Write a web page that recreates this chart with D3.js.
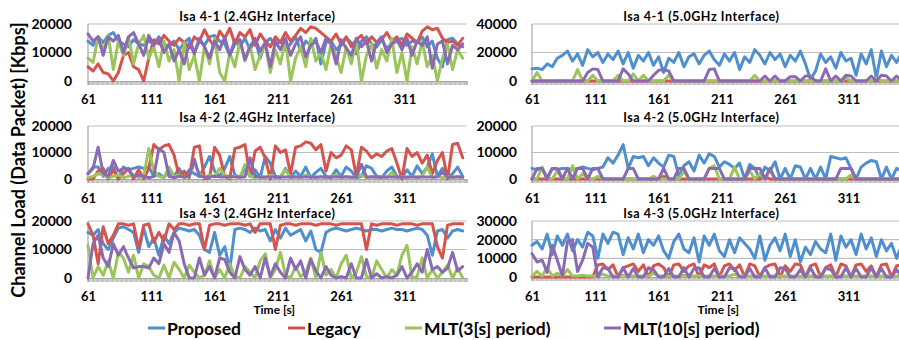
<!DOCTYPE html>
<html><head><meta charset="utf-8">
<script src="https://cdn.jsdelivr.net/npm/d3@7"></script>
<style>
html,body{margin:0;padding:0;background:#fff;}
text{font-family:Lato,"Open Sans",sans-serif;font-weight:bold;fill:#000;}
</style></head>
<body>
<script>
// ---- categories / ticks ----
const sampleTimes = d3.range(61, 361, 4);          // sample times [s]
const categoryTimes = d3.range(61, 361, 1);        // category tick marks
const xTickLabels = [61, 111, 161, 211, 261, 311];
const seriesNames = ["Proposed", "Legacy", "MLT(3[s] period)", "MLT(10[s] period)"];
const seriesColors = ["#4F8FCE", "#D6544E", "#9BC45A", "#8B6AB4"];
const panelTitles = ["Isa 4-1 (2.4GHz Interface)", "Isa 4-1 (5.0GHz Interface)",
  "Isa 4-2 (2.4GHz Interface)", "Isa 4-2 (5.0GHz Interface)",
  "Isa 4-3 (2.4GHz Interface)", "Isa 4-3 (5.0GHz Interface)"];
const yTicks20k = [0, 10000, 20000];
const yTicks40k = [0, 20000, 40000];
const yTicks30k = [0, 10000, 20000, 30000];

// ---- Isa 4-1 2.4GHz ----
const isa41_24_proposed = [
 14000,12500,15500,13500,16000,17000,14000,13000,12000,14500,13000,12500,14000,13000,15500,
 13000,12000,14000,11000,13500,15000,10000,14000,12500,15500,16000,14000,13000,9000,14500,
 12000,15000,11000,14500,8000,13500,15000,12500,14000,11000,13000,15500,10500,14000,12500,
 15000,6000,13500,14000,11000,12500,15000,13500,9500,14000,15500,13000,12000,14500,11500,
 13000,14000,15000,12500,14000,13500,15500,12000,14000,8000,5000,14500,15000,13000,12000];
const isa41_24_legacy = [
 5000,3500,6000,3000,2500,0,3000,9000,10000,5000,4000,0,8000,14500,13000,
 16000,14000,12500,15000,13500,11500,15500,14000,18000,14500,12000,17500,15000,18500,13000,
 17000,15500,18000,12500,16500,14000,12000,15500,13500,17000,14000,16000,18500,17000,19000,
 18500,17000,15500,14000,16500,13000,15500,12000,14500,16000,13000,15500,13500,14500,17000,
 14000,15500,12500,16500,15000,13500,17500,19000,18000,18500,15000,13500,14000,12500,15000];
const isa41_24_mlt3 = [
 8000,6500,15500,11000,16000,4000,14000,9000,15500,6000,13000,16000,8000,12000,5000,
 14000,7000,11000,0,13500,4000,9000,0,12000,6000,15000,3000,0,10000,5000,
 14000,7000,12500,4000,9000,13000,3000,11000,6000,14500,0,8000,12000,5000,15000,
 7000,10000,4000,13000,8500,3000,12000,6000,14000,0,9000,13000,4500,11000,7000,
 15000,3000,10000,0,12000,6000,14000,5000,9000,0,8000,13000,4000,11000,8000];
const isa41_24_mlt10 = [
 16500,14000,15500,9000,15500,14000,16000,10000,15500,17000,13000,9000,16000,12500,14500,
 10000,13000,7000,11000,6000,13500,9500,15000,12000,8000,14000,11000,15500,9000,13000,
 14500,7500,12000,15000,10500,13500,5000,14000,11000,15000,9000,13000,15500,8500,12500,
 14000,10000,15000,13000,6000,14500,11500,9000,15000,12000,14000,7000,13500,15500,10000,
 13000,14500,11000,15000,9000,14000,12500,15500,4500,13000,14000,6000,12500,11000,13000];

// ---- Isa 4-1 5.0GHz ----
const isa41_50_proposed = [
 8500,9000,8000,12000,10000,16000,18000,21000,14000,19000,11000,22000,17000,20000,13000,
 19000,15000,21000,12000,20000,9000,18000,14000,20000,11000,17000,6000,16000,13000,20000,
 10000,17000,19000,12000,18000,21000,15000,11000,19000,14000,20000,8000,17000,13000,22000,
 18000,12000,20000,15000,19000,10000,18000,14000,21000,12000,1000,7000,19000,13000,17000,
 9000,20000,14000,16000,4000,19000,12000,22000,2000,21000,10000,18000,13000,20000,17000];
const isa41_50_legacy = [
 0,0,0,0,0,0,0,0,0,0,0,0,0,0,0,
 0,0,0,0,0,0,0,0,0,0,0,0,0,0,0,
 0,0,0,0,0,0,0,0,0,0,0,0,0,0,0,
 0,0,0,0,0,0,0,0,0,0,0,0,0,0,0,
 0,0,0,0,0,0,0,0,0,0,0,0,0,0,0];
const isa41_50_mlt3 = [
 0,6000,0,0,0,0,0,0,0,8000,0,0,4000,0,0,
 0,0,4000,0,0,5000,0,4000,0,0,0,0,4000,0,0,
 0,0,0,0,0,0,0,0,0,0,0,0,0,0,4000,
 0,0,0,0,0,0,0,0,0,0,0,0,0,0,0,
 0,0,2000,0,0,0,0,0,2000,0,0,0,0,0,0];
const isa41_50_mlt10 = [
 0,0,0,0,0,0,0,0,0,0,0,6000,8500,8000,0,
 0,0,0,8500,5000,0,0,0,0,4000,7500,8000,7000,0,0,
 0,0,0,0,0,8000,8500,0,0,0,0,0,0,0,0,
 0,3500,0,3500,0,0,3000,3000,0,3500,3500,0,0,8500,0,
 3500,0,4000,3500,0,0,0,3500,0,4000,3500,0,3500,0,0];

// ---- Isa 4-2 2.4GHz ----
const isa42_24_proposed = [
 2000,4500,4500,1000,4000,4500,0,4500,3500,4000,4500,4000,4500,1000,2000,
 500,3000,1000,4000,500,3500,2000,1000,4500,8500,3000,1000,4000,8500,1500,
 500,4000,1000,3500,500,8500,6000,1000,500,4000,500,3000,1000,4500,500,
 2500,4000,1000,500,3500,1000,4500,3000,500,1000,5000,4000,1000,500,3000,
 4500,1000,500,3500,1000,5000,2000,4500,9500,1000,4000,500,2000,4500,1000];
const isa42_24_legacy = [
 0,0,3000,4000,0,3500,0,2000,4000,0,3500,0,4000,13000,11000,
 12500,13000,9000,1000,3000,500,12000,12500,0,500,12000,9000,1000,0,11500,
 12000,13000,1000,10500,12000,8000,0,12500,10000,11000,2000,12000,12500,14000,13500,
 11000,13000,3000,10000,8000,9000,12500,11000,1000,12000,10500,8000,9500,8500,10500,
 11500,6000,0,11500,8500,10000,6000,9000,2000,7000,10000,0,13000,13500,8000];
const isa42_24_mlt3 = [
 500,1000,2000,1500,500,1000,1500,500,1000,1500,500,1000,11500,3000,1000,
 500,4500,1000,1500,500,1000,6000,2000,500,1500,1000,4000,1500,500,1000,
 500,5500,1000,500,1000,500,1500,500,1000,3500,500,1000,500,1500,1000,
 500,1000,500,1000,1500,500,1000,500,1000,1500,500,1000,500,1000,500,
 2500,500,1000,500,1000,500,1000,4500,500,1000,500,1000,500,1000,500];
const isa42_24_mlt10 = [
 2000,4000,12000,2000,1000,7000,3000,4000,3500,1000,1500,1000,500,1000,11500,
 10000,1000,500,1000,800,1000,7500,1000,800,800,1000,800,800,1000,800,
 800,800,8000,1000,800,800,800,800,800,800,800,800,800,800,800,
 800,800,800,800,800,800,800,800,800,5500,800,800,800,800,800,
 800,800,800,800,800,800,800,800,800,800,2500,800,800,800,800];

// ---- Isa 4-2 5.0GHz ----
const isa42_50_proposed = [
 4000,3500,4000,500,4000,3500,4000,4000,3500,4000,4500,4000,3500,4000,4500,
 8000,6000,9000,13000,4000,8500,8000,8500,5000,8000,6000,4500,9000,8500,1000,
 5000,6500,3000,9000,6000,9500,8500,4500,6500,5500,4000,6000,0,5500,4000,
 0,4500,3000,6500,0,4000,0,5000,4500,0,4000,0,4500,0,8500,
 8000,7500,8000,4000,0,4500,6000,7000,6500,0,4500,0,4000,3000,4000];
const isa42_50_legacy = [
 0,0,0,0,0,0,0,0,0,0,0,0,0,0,0,
 0,0,0,0,0,0,0,0,0,0,0,1000,0,0,0,
 0,0,0,0,0,0,0,0,0,0,0,0,0,0,0,
 0,1000,0,0,0,0,0,0,0,0,0,0,0,0,0,
 0,0,0,0,0,0,0,0,0,0,0,0,0,0,0];
const isa42_50_mlt3 = [
 0,0,4500,0,0,3000,0,0,5000,0,2000,0,0,1000,0,
 0,0,0,0,0,0,0,0,0,1000,0,0,0,0,0,
 3000,0,0,0,0,4000,5000,0,0,0,4500,0,0,3000,0,
 2000,0,3500,0,0,0,0,0,0,0,0,0,0,0,0,
 0,0,0,1500,0,0,0,0,0,0,0,0,0,0,0];
const isa42_50_mlt10 = [
 0,4000,4000,0,4000,4000,0,4000,0,4000,4000,0,4000,4000,0,
 0,0,0,0,4000,4000,0,0,0,0,0,4000,0,0,4000,
 4000,0,0,0,0,4000,4000,4000,0,0,0,0,0,4000,4000,
 4000,0,4000,0,0,0,0,0,0,0,0,0,0,0,0,
 0,4000,4000,4000,0,0,0,0,0,0,0,0,0,0,0];

// ---- Isa 4-3 2.4GHz ----
const isa43_24_proposed = [
 16000,15000,17000,12000,10000,14000,17500,18000,17000,16000,9000,17500,11000,14000,8000,
 15000,12000,16000,17500,17000,16500,17000,15000,10000,9000,16000,8000,11000,3000,17000,
 17500,17000,16000,17500,16500,17000,13000,17000,14000,17500,15000,16000,17000,13000,16500,
 10000,9000,16000,17000,17500,17000,16500,17000,17500,17000,16500,17000,17000,16500,17000,
 17500,17000,17000,16500,17000,17500,17000,15000,8000,16500,17000,14000,16500,17000,16500];
const isa43_24_legacy = [
 19000,15000,5000,18000,12000,15000,19000,19000,18500,19000,10500,18500,19000,12500,16000,
 13000,19000,17000,19000,19000,18500,19000,19000,10000,18500,19000,19000,18500,19000,19000,
 19000,18500,19000,16000,19000,19000,19000,10000,18500,19000,19000,18500,19000,19000,19000,
 18500,19000,19000,19000,18500,19000,19000,19000,19000,19000,10000,19000,18500,19000,19000,
 19000,18500,19000,19000,19000,18500,19000,19000,19000,11000,7000,18500,19000,19000,19000];
const isa43_24_mlt3 = [
 11500,0,4000,1000,6000,0,9000,7000,2000,8000,0,5000,4000,1000,0,
 4500,0,5500,3000,0,4500,2000,0,1000,6000,0,3000,0,5000,500,
 0,4000,2000,0,6000,8500,0,3000,9000,1000,0,4000,500,2000,7000,
 0,9000,1000,3000,0,5000,8000,0,2000,7500,500,0,6000,3000,0,
 3000,1000,8000,11500,0,500,7000,0,3000,0,2000,4500,0,3500,0];
const isa43_24_mlt10 = [
 0,12000,15000,7000,4000,12000,8000,11000,7000,3500,4000,4000,3500,7000,5000,
 12000,9000,16000,13000,5000,0,0,7000,1000,4000,0,7000,6500,2000,0,
 7500,3000,1000,4000,0,7000,500,5000,2000,0,7000,3000,6000,0,6500,
 2500,0,4000,1000,0,500,0,5000,0,0,6500,0,1500,0,500,
 0,1000,4000,0,2000,5000,2000,10000,3000,4000,2000,3500,9000,2500,4000];

// ---- Isa 4-3 5.0GHz ----
const isa43_50_proposed = [
 17000,19000,15000,23000,12000,22000,17000,23000,14000,20000,16000,24000,22000,10000,23000,
 18000,24000,23000,12000,21000,15000,23000,13000,20000,17000,22000,14000,10000,19000,23000,
 15000,13000,21000,8000,22000,17000,23000,14000,11000,20000,13000,21000,18000,15000,10000,
 22000,9000,17000,21000,14000,23000,11000,20000,8000,16000,12000,19000,15000,13000,23000,
 9000,22000,16000,20000,12000,23000,15000,21000,11000,20000,14000,18000,10000,17000,12000];
const isa43_50_legacy = [
 0,0,0,0,0,0,0,0,0,0,0,0,0,6500,7000,
 4000,6500,0,5000,6000,7000,3000,6500,0,6000,7000,5000,0,6500,7000,
 3000,6000,7000,0,6500,5000,7000,0,6000,7000,3500,6500,0,7000,6000,
 0,5000,6500,7000,0,6000,3000,7000,6500,0,6000,7000,0,5000,6500,
 0,7000,6000,0,6500,7000,3000,6000,0,6500,7000,0,6000,6500,0];
const isa43_50_mlt3 = [
 500,3000,500,5000,500,2000,500,4000,500,500,1000,500,500,500,1500,
 500,500,500,1000,500,500,500,500,500,2000,500,500,500,500,500,
 1000,500,500,500,500,500,500,500,500,500,1500,500,500,500,500,
 500,500,500,500,500,500,500,500,500,500,500,500,500,500,500,
 500,500,500,500,500,500,500,500,500,500,500,500,500,500,500];
const isa43_50_mlt10 = [
 12500,8000,9000,2500,17000,9000,500,19000,20000,3000,9000,18000,16000,0,5000,
 4500,0,0,5000,0,4500,0,0,5000,4000,0,0,4500,0,0,
 5000,0,4500,5000,0,0,4500,0,0,5000,4500,0,0,4500,0,
 0,5000,0,0,5000,4500,0,0,4000,0,5000,0,0,4500,4000,
 0,0,5000,0,4500,0,0,5000,0,4500,0,0,4000,0,4000];

// ---- layout ----
const W = 899, H = 340;
const cols = [{x0: 88, x1: 466.5, labelRight: 72}, {x0: 532, x1: 910.5, labelRight: 517}];
const rows = [
  {top: 24, bot: 81, titleY: 16.5, labelY: 99.5},
  {top: 126, bot: 179, titleY: 117.5, labelY: 198.5},
  {top: 221, bot: 278, titleY: 213, labelY: 296}
];
const panels = [
  {title: panelTitles[0], c: 0, r: 0, yMax: 20000, ticks: yTicks20k, series: [isa41_24_proposed, isa41_24_legacy, isa41_24_mlt3, isa41_24_mlt10]},
  {title: panelTitles[1], c: 1, r: 0, yMax: 40000, ticks: yTicks40k, series: [isa41_50_proposed, isa41_50_legacy, isa41_50_mlt3, isa41_50_mlt10]},
  {title: panelTitles[2], c: 0, r: 1, yMax: 20000, ticks: yTicks20k, series: [isa42_24_proposed, isa42_24_legacy, isa42_24_mlt3, isa42_24_mlt10]},
  {title: panelTitles[3], c: 1, r: 1, yMax: 20000, ticks: yTicks20k, series: [isa42_50_proposed, isa42_50_legacy, isa42_50_mlt3, isa42_50_mlt10]},
  {title: panelTitles[4], c: 0, r: 2, yMax: 20000, ticks: yTicks20k, series: [isa43_24_proposed, isa43_24_legacy, isa43_24_mlt3, isa43_24_mlt10]},
  {title: panelTitles[5], c: 1, r: 2, yMax: 30000, ticks: yTicks30k, series: [isa43_50_proposed, isa43_50_legacy, isa43_50_mlt3, isa43_50_mlt10], botAdj: -1}
];

const svg = d3.select("body").append("svg").attr("width", W).attr("height", H);

panels.forEach(p => {
  const col = cols[p.c], row = rows[p.r];
  const bot = row.bot + (p.botAdj || 0);
  const x = d3.scaleLinear().domain([61, 360]).range([col.x0, col.x1]);
  const y = d3.scaleLinear().domain([0, p.yMax]).range([bot, row.top]);
  const g = svg.append("g");

  // gridlines
  g.selectAll("line.grid").data(p.ticks.filter(t => t > 0)).enter().append("line")
    .attr("x1", col.x0).attr("x2", col.x1).attr("y1", d => y(d)).attr("y2", d => y(d))
    .attr("stroke", "#BFBFBF").attr("stroke-width", 1.2);

  // category tick marks
  g.append("g").attr("transform", `translate(0,${bot})`)
    .call(d3.axisBottom(x).tickValues(categoryTimes).tickSize(4).tickFormat(""))
    .call(a => a.select(".domain").attr("stroke", "#A6A6A6").attr("stroke-width", 1.2))
    .call(a => a.selectAll(".tick line").attr("stroke", "#A6A6A6").attr("stroke-width", 0.8));

  // left axis line
  g.append("line").attr("x1", col.x0).attr("x2", col.x0).attr("y1", row.top).attr("y2", bot + 4)
    .attr("stroke", "#A6A6A6").attr("stroke-width", 1.2);

  // x labels
  g.append("g").attr("transform", `translate(0,${row.labelY})`)
    .call(d3.axisBottom(x).tickValues(xTickLabels).tickSize(0).tickPadding(0))
    .call(a => a.select(".domain").remove())
    .call(a => a.selectAll("text").attr("y", 0).attr("dy", "0.36em")
      .style("font-size", "13px").style("font-family", "Lato").style("font-weight", "bold").attr("fill", "#000"));

  // y labels
  g.append("g").attr("transform", `translate(${col.x0},0)`)
    .call(d3.axisLeft(y).tickValues(p.ticks).tickSize(0).tickPadding(col.x0 - col.labelRight).tickFormat(d3.format("d")))
    .call(a => a.select(".domain").remove())
    .call(a => a.selectAll("text").style("font-size", "14px").style("font-family", "Lato").style("font-weight", "bold").attr("fill", "#000"));

  // series
  const line = d3.line().x((d, i) => x(sampleTimes[i])).y(d => y(d));
  p.series.forEach((s, k) => {
    g.append("path").datum(s).attr("d", line)
      .attr("fill", "none").attr("stroke", seriesColors[k]).attr("stroke-width", 3)
      .attr("stroke-linejoin", "round").attr("stroke-linecap", "round");
  });

  // title
  g.append("text").attr("x", (col.x0 + col.x1) / 2 - 20).attr("y", row.titleY)
    .attr("text-anchor", "middle").attr("dominant-baseline", "central")
    .style("font-size", "12.5px").style("letter-spacing", "0.55px").text(p.title);
});

// x-axis titles
cols.forEach(col => {
  svg.append("text").attr("x", (col.x0 + col.x1) / 2 - 3).attr("y", 309.5)
    .attr("text-anchor", "middle").attr("dominant-baseline", "central")
    .style("font-size", "12px").text("Time [s]");
});

// y-axis title
svg.append("text").attr("transform", "translate(18,160) rotate(-90)")
  .attr("text-anchor", "middle").attr("dominant-baseline", "central")
  .style("font-size", "18px").text("Channel Load (Data Packet) [Kbps]");

// legend
const legendX = [148, 288, 405, 604];
const lg = svg.append("g");
seriesNames.forEach((n, k) => {
  lg.append("line").attr("x1", legendX[k]).attr("x2", legendX[k] + 17).attr("y1", 328).attr("y2", 328)
    .attr("stroke", seriesColors[k]).attr("stroke-width", 3);
  lg.append("text").attr("x", legendX[k] + 19).attr("y", 328.5).attr("dominant-baseline", "central")
    .style("font-size", "17.5px").text(n);
});
</script>
</body></html>
